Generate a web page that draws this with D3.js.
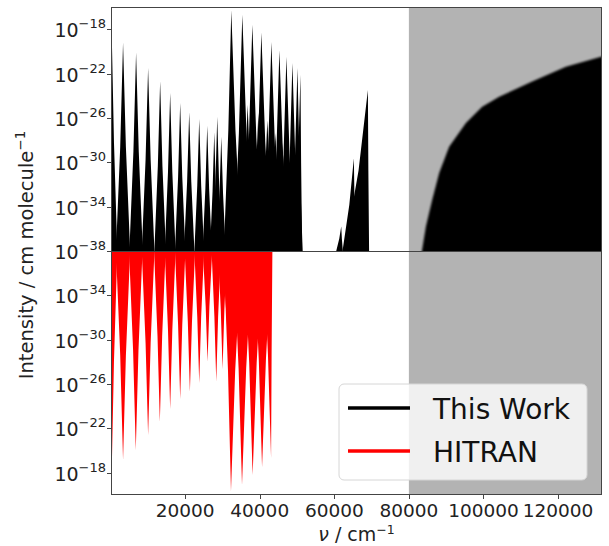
<!DOCTYPE html>
<html>
<head>
<meta charset="utf-8">
<script src="https://cdn.jsdelivr.net/npm/d3@7"></script>
<style>
  body { margin: 0; background: #fff; }
  svg { display: block; font-family: "DejaVu Sans", sans-serif; }
</style>
</head>
<body>
<div id="chart"></div>
<script>
// This Work: band centre (cm-1), peak intensity, half width at the 1e-38 floor (left / right)
const thisWorkNu = [300, 3333, 6828, 10054, 13280, 15968, 18656, 21075, 23763, 25914, 27796, 28602, 29677,
    32366, 33172, 35323, 36747, 38011, 39624, 40430, 42043, 43118, 44194, 45269, 46075, 47151, 48763, 50108, 50914,
    61855, 65242, 69005];
const thisWorkPeak = [3.2e-19, 6.3e-20, 7.9e-21, 3.2e-22, 2.0e-23, 1.8e-24, 2.2e-25, 3.2e-26, 7.9e-27, 2.0e-27, 5.0e-28, 1.26e-26, 2.0e-28,
    5.0e-17, 1.26e-26, 2.0e-17, 1.5e-25, 2.5e-18, 2.8e-26, 5.0e-19, 6.3e-27, 7.1e-20, 4.4e-28, 1.26e-20, 5.5e-29, 3.2e-21, 8.9e-22, 3.2e-22, 7.9e-23,
    1.6e-36, 2.3e-30, 3.3e-24];
const thisWorkLeft = [300, 1900, 1800, 1700, 1550, 1450, 1400, 1400, 1300, 1250, 1150, 1250, 1200,
    2000, 1900, 2300, 1900, 2300, 1900, 2200, 1900, 2100, 1800, 2000, 1800, 1900, 1800, 1700, 1600,
    1340, 3040, 6260];
const thisWorkRight = [1500, 1900, 1800, 1700, 1550, 1450, 1400, 1400, 1300, 1250, 1150, 1250, 1200,
    2800, 1900, 2800, 1900, 2700, 1900, 2600, 1900, 2400, 1800, 2300, 1800, 2100, 1900, 1400, 450,
    430, 460, 320];

// This Work: high-energy continuum edge
const continuumNu = [83500, 84570, 86250, 88130, 90800, 95300, 99670, 104230, 113080, 122120, 131800];
const continuumI = [1e-38, 1.6e-36, 4.0e-34, 1.1e-31, 2.5e-29, 3.5e-27, 1.0e-25, 8.1e-25, 1.9e-23, 4.2e-22, 3.4e-21];

// HITRAN: band centre, peak intensity, half widths
const hitranNu = [300, 3333, 6747, 10054, 13199, 15968, 18656, 21263, 23763, 25995, 28333, 30027, 31290,
    32285, 35242, 38091, 40618, 43038];
const hitranPeak = [5.6e-19, 7.1e-20, 8.9e-21, 4.0e-22, 2.5e-23, 1.8e-24, 2.2e-25, 5.0e-26, 7.9e-27, 1.0e-28, 6.3e-27, 4.5e-28, 1.26e-31,
    4.5e-17, 1.26e-17, 1.6e-18, 3.2e-19, 4.5e-20];
const hitranLeft = [300, 1900, 1800, 1700, 1550, 1450, 1400, 1400, 1300, 1250, 1250, 1200, 1600,
    2000, 2300, 2300, 2200, 2100];
const hitranRight = [1500, 1900, 1800, 1700, 1550, 1450, 1400, 1400, 1300, 1250, 1250, 1200, 1600,
    2800, 2800, 2700, 2600, 350];

const xTicks = [20000, 40000, 60000, 80000, 100000, 120000];
const yTickExpTop = [-18, -22, -26, -30, -34, -38];
const yTickExpBottom = [-34, -30, -26, -22, -18];
const shadeStart = 80000;
const legendLabels = ["This Work", "HITRAN"];
const legendColors = ["#000000", "#ff0000"];

const width = 609, height = 546;
const plotL = 111, plotR = 602, plotT = 7, plotM = 251, plotB = 495;
const floorI = 1e-38;

const svg = d3.select("#chart").append("svg")
    .attr("width", width)
    .attr("height", height);

const x = d3.scaleLinear().domain([100, 131800]).range([plotL, plotR]);
const yTop = d3.scaleLog().domain([floorI, 1e-16]).range([plotM, plotT]);
const yBot = d3.scaleLog().domain([floorI, 1e-16]).range([plotM, plotB]);

const defs = svg.append("defs");
defs.append("clipPath").attr("id", "clipTop")
    .append("rect").attr("x", plotL).attr("y", plotT).attr("width", plotR - plotL).attr("height", plotM - plotT);
defs.append("clipPath").attr("id", "clipBot")
    .append("rect").attr("x", plotL).attr("y", plotM).attr("width", plotR - plotL).attr("height", plotB - plotM);
defs.append("filter").attr("id", "soft")
    .append("feGaussianBlur").attr("stdDeviation", 1.2);

// shaded region beyond 80000 cm-1
svg.append("rect")
    .attr("x", x(shadeStart))
    .attr("y", plotT)
    .attr("width", plotR - x(shadeStart))
    .attr("height", plotB - plotT)
    .attr("fill", "#b3b3b3");

// each band: narrow tip, flaring towards the floor (waist at half height in log space)
function bandPath(y) {
    const line = d3.line().x(d => x(d[0])).y(d => y(d[1]));
    return (nu, peak, l, r) => {
        const midI = Math.sqrt(peak * floorI);
        return line([[nu - l, floorI], [nu - 0.4 * l, midI], [nu, peak],
                     [nu + 0.4 * r, midI], [nu + r, floorI]]) + "Z";
    };
}

const gTop = svg.append("g").attr("clip-path", "url(#clipTop)");
const topBand = bandPath(yTop);
gTop.selectAll("path.band")
    .data(thisWorkNu)
    .enter()
    .append("path")
    .attr("class", "band")
    .attr("fill", "#000")
    .attr("d", (d, i) => topBand(d, thisWorkPeak[i], thisWorkLeft[i], thisWorkRight[i]));

const contArea = d3.area()
    .x(d => x(d[0]))
    .y0(yTop(floorI) + 6)
    .y1(d => yTop(d[1]));
gTop.append("g").attr("filter", "url(#soft)")
    .append("path")
    .datum(continuumNu.map((d, i) => [d, continuumI[i]]).concat([[140000, continuumI[continuumI.length - 1]]]))
    .attr("fill", "#000")
    .attr("d", contArea);

const gBot = svg.append("g").attr("clip-path", "url(#clipBot)");
const botBand = bandPath(yBot);
gBot.selectAll("path.band")
    .data(hitranNu)
    .enter()
    .append("path")
    .attr("class", "band")
    .attr("fill", "#ff0000")
    .attr("d", (d, i) => botBand(d, hitranPeak[i], hitranLeft[i], hitranRight[i]));

// frames
const spine = "#444";
svg.append("rect").attr("x", plotL + 0.5).attr("y", plotT + 0.5)
    .attr("width", plotR - plotL - 1).attr("height", plotM - plotT)
    .attr("fill", "none").attr("stroke", spine);
svg.append("rect").attr("x", plotL + 0.5).attr("y", plotM + 0.5)
    .attr("width", plotR - plotL - 1).attr("height", plotB - plotM - 1)
    .attr("fill", "none").attr("stroke", spine);

// y ticks
function yTicks(y, exps) {
    const g = svg.append("g");
    g.selectAll("line").data(exps).enter().append("line")
        .attr("x1", plotL - 4).attr("x2", plotL)
        .attr("y1", d => Math.round(y(Math.pow(10, d))) + 0.5)
        .attr("y2", d => Math.round(y(Math.pow(10, d))) + 0.5)
        .attr("stroke", spine);
    const t = g.selectAll("text").data(exps).enter().append("text")
        .attr("x", plotL - 5)
        .attr("y", d => y(Math.pow(10, d)) + 8)
        .attr("text-anchor", "end")
        .attr("font-size", 19)
        .attr("fill", "#222");
    t.append("tspan").text("10");
    t.append("tspan").attr("dy", -9).attr("font-size", 13).text(d => "\u2212" + Math.abs(d));
}
yTicks(yTop, yTickExpTop);
yTicks(yBot, yTickExpBottom);

// x ticks
const gx = svg.append("g");
gx.selectAll("line").data(xTicks).enter().append("line")
    .attr("x1", d => Math.round(x(d)) + 0.5).attr("x2", d => Math.round(x(d)) + 0.5)
    .attr("y1", plotB).attr("y2", plotB + 4)
    .attr("stroke", spine);
gx.selectAll("text").data(xTicks).enter().append("text")
    .attr("x", d => x(d))
    .attr("y", 517)
    .attr("text-anchor", "middle")
    .attr("font-size", 18.5)
    .attr("fill", "#222")
    .text(d => d);

// axis labels
const xl = svg.append("text")
    .attr("x", (plotL + plotR) / 2)
    .attr("y", 541)
    .attr("text-anchor", "middle")
    .attr("font-size", 19)
    .attr("fill", "#222");
xl.append("tspan").attr("font-style", "italic").text("\u03bd");
xl.append("tspan").text(" / cm");
xl.append("tspan").attr("dy", -7).attr("font-size", 12.5).text("\u22121");

const yl = svg.append("text")
    .attr("transform", `translate(33,${(plotT + plotB) / 2 + 4}) rotate(-90)`)
    .attr("text-anchor", "middle")
    .attr("font-size", 19.5)
    .attr("fill", "#222");
yl.append("tspan").text("Intensity / cm molecule");
yl.append("tspan").attr("dy", -8).attr("font-size", 13.5).text("\u22121");

// legend
const legend = svg.append("g").attr("transform", "translate(339,384)");
legend.append("rect")
    .attr("width", 248).attr("height", 96)
    .attr("rx", 5)
    .attr("fill", "#fff").attr("fill-opacity", 0.8)
    .attr("stroke", "#d6d6d6");
const items = legend.selectAll("g.item").data(legendLabels).enter().append("g")
    .attr("class", "item")
    .attr("transform", (d, i) => `translate(0,${24 + i * 43})`);
items.append("line")
    .attr("x1", 9).attr("x2", 71)
    .attr("stroke", (d, i) => legendColors[i])
    .attr("stroke-width", 3.5);
items.append("text")
    .attr("x", 94).attr("y", 11)
    .attr("font-size", 28)
    .attr("fill", "#111")
    .text(d => d);
</script>
</body>
</html>
